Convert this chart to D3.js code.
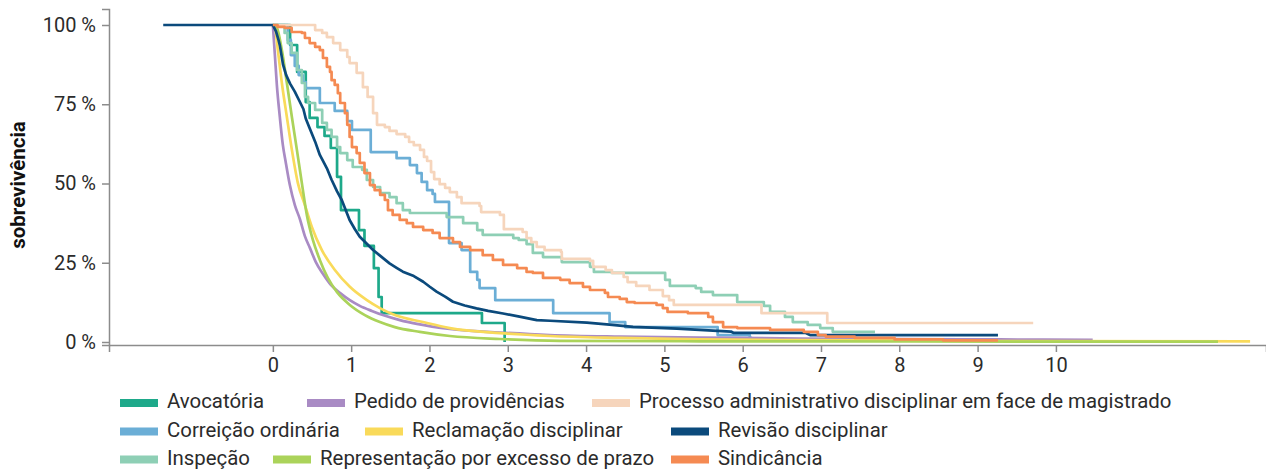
<!DOCTYPE html>
<html><head><meta charset="utf-8">
<script src="https://cdn.jsdelivr.net/npm/d3@7"></script>
<style>
html,body{margin:0;padding:0;background:#fff;}
svg{display:block;font-family:Roboto,"Noto Sans",sans-serif;}
</style></head><body>
<svg id="chart" width="1266" height="471"></svg>
<script>
// Survival curves per process class: [time in years, % still open]
const avocatoria = [[0,100],[0.22,93.7],[0.31,85.2],[0.42,75.7],[0.47,70.7],[0.57,67.8],[0.66,65.0],[0.74,61.2],[0.82,52.1],[0.87,41.6],[1.10,35.3],[1.17,30.3],[1.29,23.3],[1.35,14.2],[1.39,9.1],[2.67,6.0],[2.96,0]];
const correicao = [[0,100],[0.19,95.3],[0.23,90.5],[0.28,87.1],[0.33,84.2],[0.38,82.0],[0.42,80.1],[0.60,75.4],[0.79,72.9],[0.95,69.7],[1.01,66.9],[1.25,59.9],[1.58,58.0],[1.75,55.8],[1.84,53.3],[1.90,50.5],[1.97,47.9],[2.04,46.7],[2.07,44.2],[2.25,31.2],[2.41,29.0],[2.52,22.1],[2.61,19.6],[2.64,17.0],[2.84,13.2],[3.58,9.1],[4.30,6.3],[4.50,4.7],[5.68,2.2],[6.09,1.3],[6.12,1.3]];
const inspecao = [[0,100],[0.15,97.5],[0.19,94.3],[0.24,91.2],[0.31,85.8],[0.37,81.7],[0.41,77.3],[0.45,75.4],[0.54,73.2],[0.63,69.1],[0.69,66.9],[0.75,64.7],[0.82,61.5],[0.86,59.6],[0.95,57.4],[1.02,55.2],[1.14,54.3],[1.20,51.1],[1.28,48.9],[1.37,47.0],[1.49,45.7],[1.58,43.8],[1.66,41.6],[1.75,40.7],[2.22,39.4],[2.43,37.5],[2.61,35.3],[2.68,33.8],[3.07,32.8],[3.14,32.2],[3.24,30.9],[3.32,28.1],[3.45,26.8],[3.69,25.2],[4.05,23.7],[4.10,22.1],[4.33,21.8],[5.01,19.6],[5.07,17.7],[5.40,17.0],[5.47,15.8],[5.62,14.8],[5.93,12.6],[6.27,11.4],[6.35,9.5],[6.54,7.9],[6.64,6.3],[6.83,5.4],[6.99,4.4],[7.15,3.2],[7.69,3.2]];
const pedido = [[0,100],[0.026,90.5],[0.051,81.1],[0.089,71.0],[0.128,62.1],[0.166,56.5],[0.217,49.5],[0.281,43.2],[0.345,38.8],[0.409,33.4],[0.473,29.7],[0.549,25.2],[0.639,21.5],[0.741,18.0],[0.856,15.5],[0.983,13.2],[1.111,11.4],[1.264,9.8],[1.405,8.5],[1.622,6.9],[1.839,5.7],[2.261,4.1],[2.899,3.0],[3.538,2.2],[4.432,1.7],[5.453,1.4],[6.731,1.1],[9.285,0.8],[10.47,0.7]];
const processo = [[0,100],[0.51,100],[0.54,98.4],[0.63,97.5],[0.69,96.2],[0.77,94.3],[0.86,92.1],[0.95,89.9],[0.98,88.0],[1.07,84.9],[1.15,80.4],[1.21,77.3],[1.28,72.2],[1.33,68.5],[1.43,67.8],[1.49,66.6],[1.58,65.6],[1.69,64.7],[1.74,63.1],[1.80,62.1],[1.88,60.6],[1.93,58.4],[1.97,57.1],[2.02,53.6],[2.06,51.4],[2.13,49.8],[2.20,48.6],[2.26,47.3],[2.35,45.7],[2.41,43.8],[2.64,42.9],[2.66,41.0],[2.90,40.1],[2.95,35.6],[3.19,34.7],[3.24,32.8],[3.30,31.5],[3.37,30.0],[3.47,29.0],[3.68,28.4],[3.69,26.2],[4.05,25.6],[4.09,23.7],[4.25,22.7],[4.33,21.8],[4.48,20.5],[4.53,18.9],[4.64,17.7],[4.81,16.4],[4.98,14.5],[5.06,13.2],[5.12,11.7],[6.24,9.1],[7.08,6.0],[9.71,6.0]];
const reclamacao = [[0,100],[0.026,99.4],[0.064,92.1],[0.115,81.7],[0.179,71.0],[0.243,60.6],[0.319,50.2],[0.409,43.2],[0.498,36.3],[0.626,29.0],[0.792,22.7],[0.983,17.4],[1.201,13.2],[1.367,10.7],[1.558,8.5],[1.916,6.3],[2.261,4.4],[2.899,2.8],[3.538,1.9],[4.432,1.3],[5.453,0.85],[6.731,0.57],[9.285,0.32],[12.48,0.22]];
const representacao = [[0,100],[0.051,99.1],[0.115,92.1],[0.179,81.7],[0.243,71.0],[0.307,60.6],[0.370,50.2],[0.434,40.1],[0.511,32.2],[0.600,25.9],[0.702,20.2],[0.817,15.8],[0.983,11.7],[1.175,8.5],[1.367,6.3],[1.558,4.7],[1.877,3.2],[2.261,1.9],[2.899,0.95],[3.665,0.38],[5.453,0.22],[8.008,0.16],[12.07,0.13]];
const revisao = [[-1.40,100],[0,100],[0.04,98.0],[0.07,95.5],[0.09,93.5],[0.13,87.5],[0.17,84.2],[0.22,81.5],[0.28,79.0],[0.33,76.5],[0.39,73.5],[0.42,70.5],[0.47,67.4],[0.54,63.2],[0.60,59.0],[0.69,54.8],[0.75,51.2],[0.82,47.5],[0.88,44.8],[0.98,38.5],[1.05,35.5],[1.11,33.2],[1.20,31.0],[1.28,29.0],[1.38,27.0],[1.49,24.8],[1.58,23.4],[1.66,22.2],[1.80,20.8],[1.92,19.0],[2.00,17.5],[2.09,15.9],[2.20,14.3],[2.30,12.7],[2.45,11.5],[2.60,10.6],[2.75,9.8],[2.94,9.0],[3.15,8.0],[3.37,6.9],[3.54,6.7],[4.01,6.1],[4.30,5.5],[4.60,4.8],[5.16,4.2],[5.85,3.3],[5.88,2.9],[6.80,2.9],[6.86,2.2],[9.26,2.2]];
const sindicancia = [[0,100],[0.06,99.4],[0.15,99.1],[0.24,97.8],[0.37,97.5],[0.41,95.9],[0.47,94.3],[0.54,93.1],[0.60,92.1],[0.64,89.6],[0.69,86.8],[0.73,85.2],[0.75,82.6],[0.79,81.1],[0.83,78.5],[0.86,75.4],[0.92,72.2],[0.95,68.5],[0.98,64.7],[1.01,61.5],[1.07,59.6],[1.11,56.5],[1.17,53.3],[1.24,49.5],[1.30,47.9],[1.37,46.4],[1.43,44.8],[1.47,41.6],[1.53,40.1],[1.62,38.5],[1.71,37.5],[1.79,36.3],[1.92,35.3],[2.04,34.4],[2.13,32.8],[2.30,31.5],[2.39,30.0],[2.52,29.0],[2.68,27.4],[2.81,25.9],[2.94,24.3],[3.12,23.3],[3.24,22.1],[3.32,21.8],[3.45,20.2],[3.67,19.6],[3.79,18.6],[3.96,17.4],[4.05,16.4],[4.24,15.5],[4.28,14.2],[4.43,13.6],[4.52,12.6],[4.62,12.3],[4.90,11.7],[4.98,10.7],[5.04,9.5],[5.30,9.1],[5.56,7.9],[5.62,6.3],[5.75,4.7],[5.93,4.4],[6.35,3.8],[6.78,3.2],[6.96,2.2],[7.06,1.7],[7.43,1.3],[7.94,0.8],[8.56,0.5],[9.26,0.5]];

const seriesNames = ["Avocatória","Correição ordinária","Inspeção","Pedido de providências","Processo administrativo disciplinar em face de magistrado","Reclamação disciplinar","Representação por excesso de prazo","Revisão disciplinar","Sindicância"];
const seriesData = [avocatoria, correicao, inspecao, pedido, processo, reclamacao, representacao, revisao, sindicancia];

const xTicks = [0,1,2,3,4,5,6,7,8,9,10];
const yTicks = [0,25,50,75,100];
const yTitle = "sobrevivência";

// styling
const colors = ["#1ea98a","#6baed6","#8ecfb5","#a98bc4","#f6d5bc","#f9da5a","#abd35a","#0b4a7c","#f58a52"];
// how each curve is traced: staircase for sparse classes, smooth for large ones
const curveKind = ["step","step","step","smooth","step","smooth","smooth","linear","step"];
// legend rows (series indices) and the left edge of each entry's swatch
const legendRows = [[0,3,4],[1,5,7],[2,6,8]];
const legendLeft = [[120,307,592],[120,365,671],[120,273,671]];

const svg = d3.select("#chart");
const x = d3.scaleLinear().domain([-2.0925, 12.683]).range([109, 1266]);
const y = d3.scaleLinear().domain([-0.946, 105.05]).range([345, 9]);

const fontSize = 20;
const legendFontSize = 20.4;
const textColor = "#2b2b2b";
const axisColor = "#8c8c8c";

// y axis
const gy = svg.append("g").attr("transform", "translate(109,0)")
  .call(d3.axisLeft(y).tickValues(yTicks).tickSize(7).tickPadding(6).tickFormat(d => d + " %"));
gy.select(".domain").attr("stroke", axisColor).attr("stroke-width", 1.5);
gy.selectAll(".tick line").attr("stroke", axisColor).attr("stroke-width", 1.5);
gy.selectAll(".tick text").attr("fill", textColor).style("font-size", fontSize + "px").style("font-family", "Roboto");

// x axis
const gx = svg.append("g").attr("transform", "translate(0,345)")
  .call(d3.axisBottom(x).tickValues(xTicks).tickSize(7).tickPadding(6).tickFormat(d3.format("d")));
gx.select(".domain").attr("stroke", axisColor).attr("stroke-width", 1.5);
gx.selectAll(".tick line").attr("stroke", axisColor).attr("stroke-width", 1.5);
gx.selectAll(".tick text").attr("fill", textColor).style("font-size", fontSize + "px").style("font-family", "Roboto");

// y title
svg.append("text")
  .attr("transform", "translate(18,185) rotate(-90)")
  .attr("text-anchor", "middle").attr("dominant-baseline", "central")
  .attr("fill", "#111").style("font-size", "20.5px").style("font-weight", "bold")
  .text(yTitle);

// curves
const curves = {step: d3.curveStepAfter, smooth: d3.curveMonotoneX, linear: d3.curveLinear};
const plot = svg.append("g");
seriesData.forEach((data, i) => {
  const line = d3.line().x(d => x(d[0])).y(d => y(d[1])).curve(curves[curveKind[i]]);
  plot.append("path").datum(data)
    .attr("d", line)
    .attr("fill", "none")
    .attr("stroke", colors[i])
    .attr("stroke-width", 2.7)
    .attr("stroke-linejoin", "round");
});

// legend
const rowY = [401, 429.5, 457.5];
const legend = svg.append("g");
legendRows.forEach((row, r) => {
  row.forEach((si, c) => {
    const lx = legendLeft[r][c];
    const g = legend.append("g").attr("transform", `translate(${lx},${rowY[r]})`);
    g.append("rect").attr("x", 0).attr("y", -2).attr("width", 38).attr("height", 8).attr("fill", colors[si]);
    g.append("text").attr("x", 47).attr("y", 7)
      .attr("fill", textColor).style("font-size", legendFontSize + "px")
      .text(seriesNames[si]);
  });
});
</script>
</body></html>
